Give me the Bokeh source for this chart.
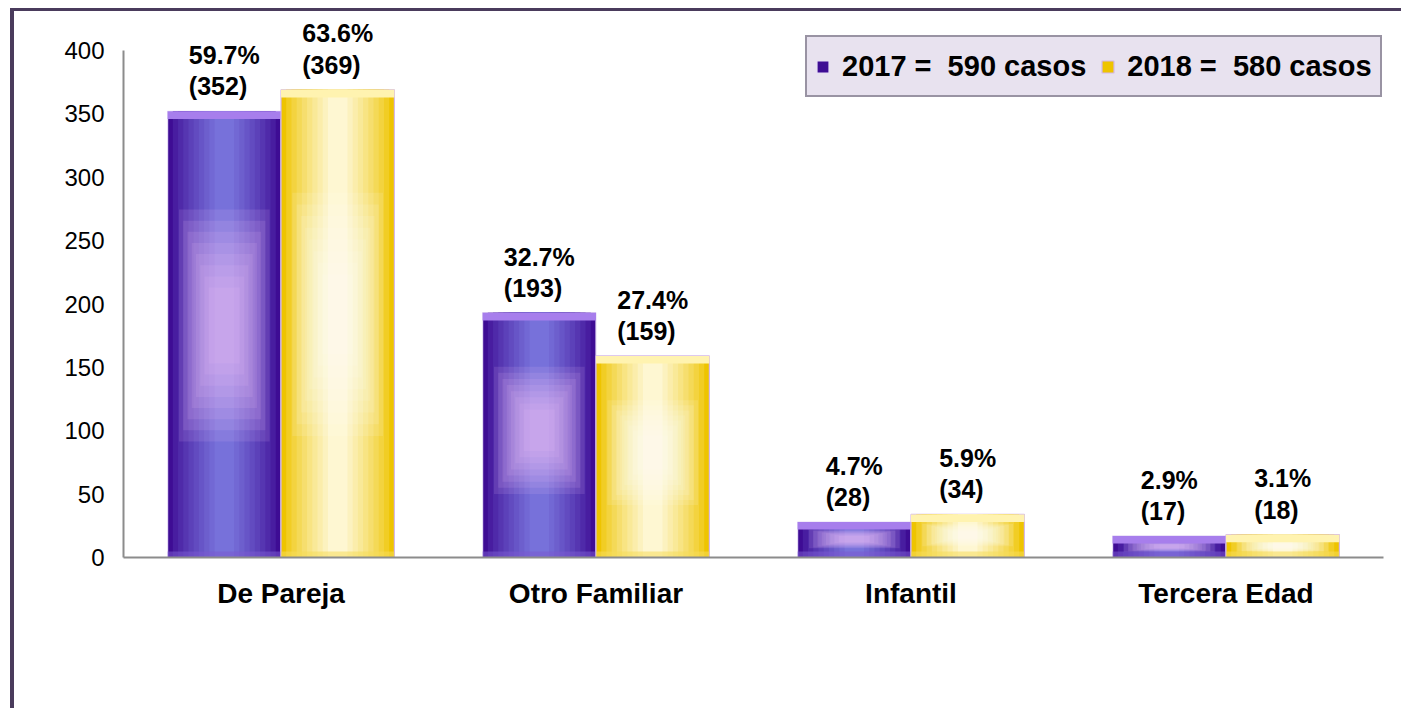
from bokeh.plotting import figure
from bokeh.models import ColumnDataSource, FactorRange, LabelSet, Legend, LegendItem, Range1d
from bokeh.transform import dodge
from bokeh.core.properties import value
from bokeh.embed import file_html
from bokeh.resources import INLINE

# ---------------- data ----------------
categories = ["De Pareja", "Otro Familiar", "Infantil", "Tercera Edad"]
casos_2017 = [352, 193, 28, 17]
casos_2018 = [369, 159, 34, 18]
pct_2017 = ["59.7%", "32.7%", "4.7%", "2.9%"]
pct_2018 = ["63.6%", "27.4%", "5.9%", "3.1%"]
total_2017 = 590
total_2018 = 580
y_ticks = [0, 50, 100, 150, 200, 250, 300, 350, 400]
y_axis_max = 400

FONT = "Liberation Sans"
BEVEL = 6  # data units for top bevel band
GLOW_STEPS = 8

def make_source(vals, pcts):
    d = dict(
        cat=categories,
        top=vals,
        bevel_bottom=[v - BEVEL for v in vals],
        base_top=[min(BEVEL * 0.8, v) for v in vals],
        label=[f"{p}\n({v})" for p, v in zip(pcts, vals)],
    )
    for i in range(GLOW_STEPS):
        t = i / GLOW_STEPS
        half = 0.26 - 0.2 * t
        d[f"gt{i}"] = [v * (0.52 + half) for v in vals]
        d[f"gb{i}"] = [v * (0.52 - half) for v in vals]
    return ColumnDataSource(d)

src17 = make_source(casos_2017, pct_2017)
src18 = make_source(casos_2018, pct_2018)

p = figure(
    x_range=FactorRange(*categories, range_padding=0),
    y_range=Range1d(0, 425.25),
    width=1391, height=700,
    output_backend="svg", toolbar_location=None,
    min_border_left=109, min_border_right=22,
    min_border_top=7, min_border_bottom=154,
)
p.styles = {"border-top": "3px solid #4a3b5c", "border-left": "4px solid #4a3b5c",
            "margin-top": "8px", "margin-left": "10px"}
p.outline_line_color = None
p.xgrid.grid_line_color = None
p.ygrid.grid_line_color = None
p.background_fill_color = "white"
p.border_fill_color = "white"

W = 0.36
OFF = 0.18

def mix(c1, c2, t):
    a = [int(c1[i:i + 2], 16) for i in (1, 3, 5)]
    b = [int(c2[i:i + 2], 16) for i in (1, 3, 5)]
    return "#" + "".join(f"{round(x + (y - x) * t):02x}" for x, y in zip(a, b))

def draw_bars(src, off, edge, center, outline, glow, top_col, bot_col, glow_alpha):
    xs = dodge("cat", off, range=p.x_range)
    base = p.vbar(x=xs, top="top", bottom=0, width=W, source=src,
                  fill_color=edge, line_color=outline, line_width=1.2)
    n = 10
    for i in range(1, n):
        t = i / n
        p.vbar(x=xs, top="top", bottom=0, width=W * (1 - t * 0.92), source=src,
               fill_color=mix(edge, center, t ** 0.8), line_color=None)
    for i in range(GLOW_STEPS):
        t = i / GLOW_STEPS
        p.vbar(x=xs, top=f"gt{i}", bottom=f"gb{i}", width=W * (0.8 - t * 0.6),
               source=src, fill_color=glow, fill_alpha=glow_alpha, line_color=None)
    p.vbar(x=xs, top="base_top", bottom=0, width=W, source=src,
           fill_color=bot_col, fill_alpha=0.55, line_color=None)
    p.vbar(x=xs, top="top", bottom="bevel_bottom", width=W, source=src,
           fill_color=top_col, line_color=None)
    return base

r17 = draw_bars(src17, -OFF, "#3e0c94", "#7c7ae0", "#e6dcf6", "#f2c2f4", "#a77eec", "#7a5ad0", 0.13)
r18 = draw_bars(src18, OFF, "#eec400", "#fffbe4", "#d4b8ea", "#fffef4", "#fff3b0", "#f6dc5a", 0.12)

for src, off in ((src17, -OFF), (src18, OFF)):
    labels = LabelSet(
        x=dodge("cat", off, range=p.x_range), y="top", text="label", source=src,
        text_align="center", text_baseline="bottom", y_offset=11,
        text_font=value(FONT), text_font_style="bold", text_font_size="25px",
        text_color="black", text_line_height=1.12,
    )
    p.add_layout(labels)

# axes
p.yaxis.ticker = y_ticks
p.yaxis.bounds = (0, y_axis_max)
p.yaxis.axis_line_color = "#8c8c8c"
p.yaxis.axis_line_width = 2
p.yaxis.major_tick_line_color = None
p.yaxis.minor_tick_line_color = None
p.yaxis.major_tick_out = 0
p.yaxis.major_tick_in = 0
p.yaxis.major_label_standoff = 19
p.yaxis.major_label_text_font = FONT
p.yaxis.major_label_text_font_size = "24px"
p.yaxis.major_label_text_color = "black"

p.xaxis.axis_line_color = "#8c8c8c"
p.xaxis.axis_line_width = 2
p.xaxis.major_tick_line_color = None
p.xaxis.minor_tick_line_color = None
p.xaxis.major_tick_out = 0
p.xaxis.major_tick_in = 0
p.xaxis.major_label_standoff = 20
p.xaxis.major_label_text_font = FONT
p.xaxis.major_label_text_font_style = "bold"
p.xaxis.major_label_text_font_size = "28px"
p.xaxis.major_label_text_color = "black"

legend = Legend(
    items=[
        LegendItem(label=f"{2017} =  {total_2017} casos", renderers=[r17]),
        LegendItem(label=f"{2018} =  {total_2018} casos", renderers=[r18]),
    ],
    orientation="horizontal",
    location=(682, 460),
    background_fill_color="#e8e2ef", background_fill_alpha=1.0,
    border_line_color="#4a4458", border_line_width=2,
    label_text_font=FONT, label_text_font_style="bold",
    label_text_font_size="29px", label_text_color="black",
    label_height=42,
    glyph_width=15, glyph_height=15, label_standoff=12,
    spacing=14, padding=8, margin=0,
)
p.add_layout(legend, "center")

open("out.html", "w").write(file_html(p, INLINE))
